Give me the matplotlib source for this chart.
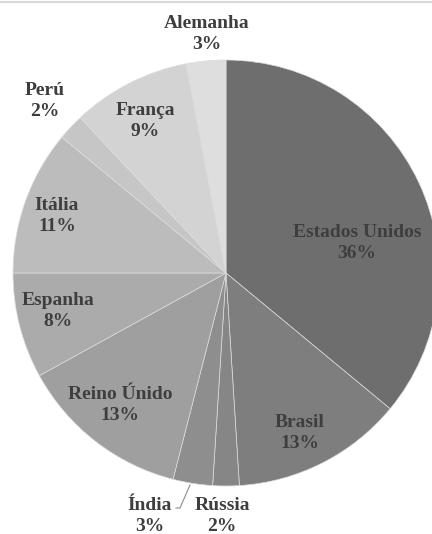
import matplotlib.pyplot as plt
from matplotlib.lines import Line2D

# Data: share per country, clockwise from 12 o'clock
paises = ['Estados Unidos', 'Brasil', 'Rússia', 'Índia', 'Reino Únido',
          'Espanha', 'Itália', 'Perú', 'França', 'Alemanha']
valores = [36, 13, 2, 3, 13, 8, 11, 2, 9, 3]
cores = ['#6e6e6e', '#7e7e7e', '#868686', '#8e8e8e', '#9f9f9f',
         '#ababab', '#bcbcbc', '#c6c6c6', '#d3d3d3', '#dedede']

# label centres in pixels (x, y from top), as Excel "best fit" put them
pos_rotulos = [(357, 243), (300, 433), (222, 516), (150, 516), (120, 405),
               (58, 311), (57, 216), (45, 101), (145, 121), (207, 34)]

W, H = 432, 534
cx, cy, R = 226, 273, 213   # pie centre and radius in pixels

fig = plt.figure(figsize=(W / 100, H / 100), dpi=100)
ax = fig.add_axes([0, 0, 1, 1])
ax.pie(valores, colors=cores, startangle=90, counterclock=False, radius=1,
       wedgeprops=dict(edgecolor='#dcdcdc', linewidth=0.5))
ax.set_xlim((0 - cx) / R, (W - cx) / R)
ax.set_ylim((cy - H) / R, cy / R)
ax.set_aspect('equal')
ax.axis('off')


def px(x, y):
    return (x - cx) / R, (cy - y) / R


for nome, v, (x, y) in zip(paises, valores, pos_rotulos):
    tx, ty = px(x, y)
    ax.text(tx, ty, f'{nome}\n{v}%', ha='center', va='center',
            family='Liberation Serif', fontweight='bold', fontsize=14,
            color='#3e3e3e', linespacing=1.3)

# leader line for Índia
lx, ly = zip(px(176, 508), px(180, 508), px(190, 485))
ax.plot(lx, ly, color='#8c8c8c', linewidth=0.8)

# thin frame line on top
fig.add_artist(Line2D([0, 1], [1 - 1.5 / H, 1 - 1.5 / H], color='#d9d9d9',
                      linewidth=1.5, transform=fig.transFigure))

fig.savefig('out.png', dpi=100, facecolor='white')
